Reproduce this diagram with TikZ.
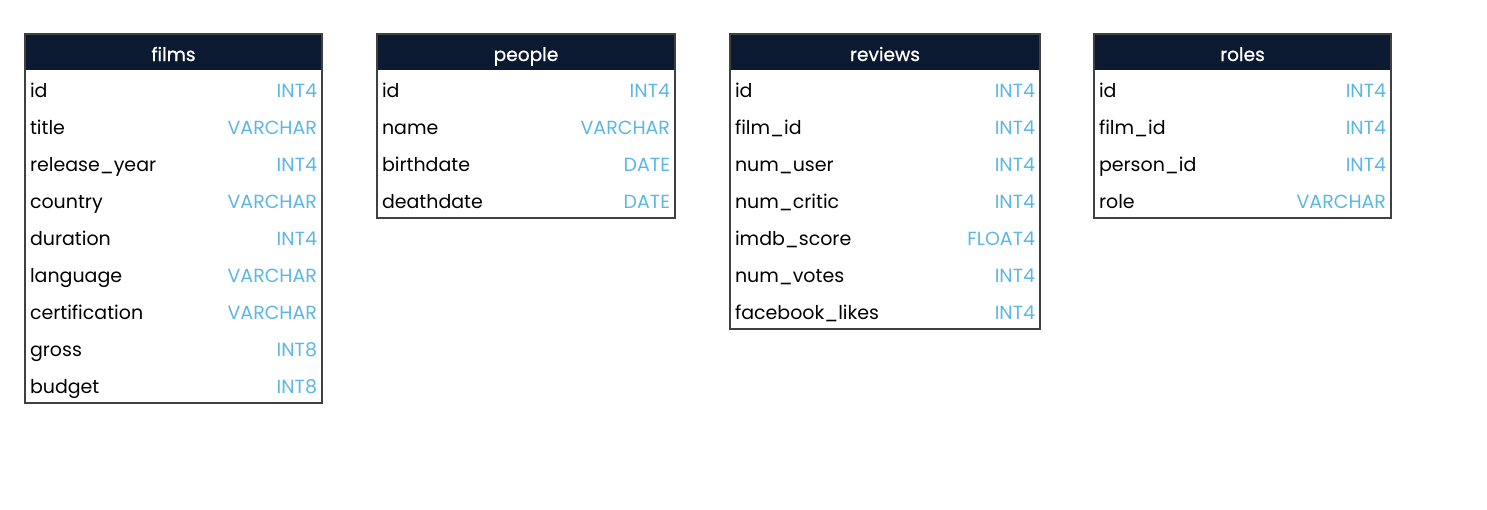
\documentclass[tikz,border=0pt]{standalone}
\usepackage{fontspec}
\setmainfont{Poppins}
\newfontfamily\headfont[FakeBold=0.8]{Poppins}
\usetikzlibrary{positioning}
\definecolor{navy}{HTML}{0B1A31}
\definecolor{typeblue}{HTML}{5CB6E6}
\newcommand{\ty}[1]{\hfill\textcolor{typeblue}{#1}}

\begin{document}
\begin{tikzpicture}[x=1pt,y=1pt,
  head/.style={anchor=north west, fill=navy, text=white, minimum height=18pt,
    text width=#1, inner xsep=2.5pt, inner ysep=0pt, outer sep=0pt, align=center,
    text height=9pt, text depth=0pt, font=\headfont\fontsize{9.3}{10}\selectfont},
  row/.style={text width=#1, minimum height=18.5pt, inner xsep=2.5pt, inner ysep=0pt,
    outer sep=0pt, text height=9pt, text depth=0.5pt, font=\fontsize{9.5}{10}\selectfont},
  tbl/.style={draw=black!75, line width=0.6pt}]
\useasboundingbox (0,0) rectangle (743.5,-254.5);

% films
\node [head=143.5pt] (fh) at (12.5,-17) {films};
\node [row=143.5pt, below=0pt of fh] (f1) {id\ty{INT4}};
\node [row=143.5pt, below=0pt of f1] (f2) {title\ty{VARCHAR}};
\node [row=143.5pt, below=0pt of f2] (f3) {release\_year\ty{INT4}};
\node [row=143.5pt, below=0pt of f3] (f4) {country\ty{VARCHAR}};
\node [row=143.5pt, below=0pt of f4] (f5) {duration\ty{INT4}};
\node [row=143.5pt, below=0pt of f5] (f6) {language\ty{VARCHAR}};
\node [row=143.5pt, below=0pt of f6] (f7) {certification\ty{VARCHAR}};
\node [row=143.5pt, below=0pt of f7] (f8) {gross\ty{INT8}};
\node [row=143.5pt, below=0pt of f8] (f9) {budget\ty{INT8}};
\draw [tbl] (fh.north west) rectangle (f9.south east);

% people
\node [head=144pt] (ph) at (188.5,-17) {people};
\node [row=144pt, below=0pt of ph] (p1) {id\ty{INT4}};
\node [row=144pt, below=0pt of p1] (p2) {name\ty{VARCHAR}};
\node [row=144pt, below=0pt of p2] (p3) {birthdate\ty{DATE}};
\node [row=144pt, below=0pt of p3] (p4) {deathdate\ty{DATE}};
\draw [tbl] (ph.north west) rectangle (p4.south east);

% reviews
\node [head=150pt] (rh) at (365,-17) {reviews};
\node [row=150pt, below=0pt of rh] (r1) {id\ty{INT4}};
\node [row=150pt, below=0pt of r1] (r2) {film\_id\ty{INT4}};
\node [row=150pt, below=0pt of r2] (r3) {num\_user\ty{INT4}};
\node [row=150pt, below=0pt of r3] (r4) {num\_critic\ty{INT4}};
\node [row=150pt, below=0pt of r4] (r5) {imdb\_score\ty{FLOAT4}};
\node [row=150pt, below=0pt of r5] (r6) {num\_votes\ty{INT4}};
\node [row=150pt, below=0pt of r6] (r7) {facebook\_likes\ty{INT4}};
\draw [tbl] (rh.north west) rectangle (r7.south east);

% roles
\node [head=143.5pt] (oh) at (547,-17) {roles};
\node [row=143.5pt, below=0pt of oh] (o1) {id\ty{INT4}};
\node [row=143.5pt, below=0pt of o1] (o2) {film\_id\ty{INT4}};
\node [row=143.5pt, below=0pt of o2] (o3) {person\_id\ty{INT4}};
\node [row=143.5pt, below=0pt of o3] (o4) {role\ty{VARCHAR}};
\draw [tbl] (oh.north west) rectangle (o4.south east);
\end{tikzpicture}
\end{document}
